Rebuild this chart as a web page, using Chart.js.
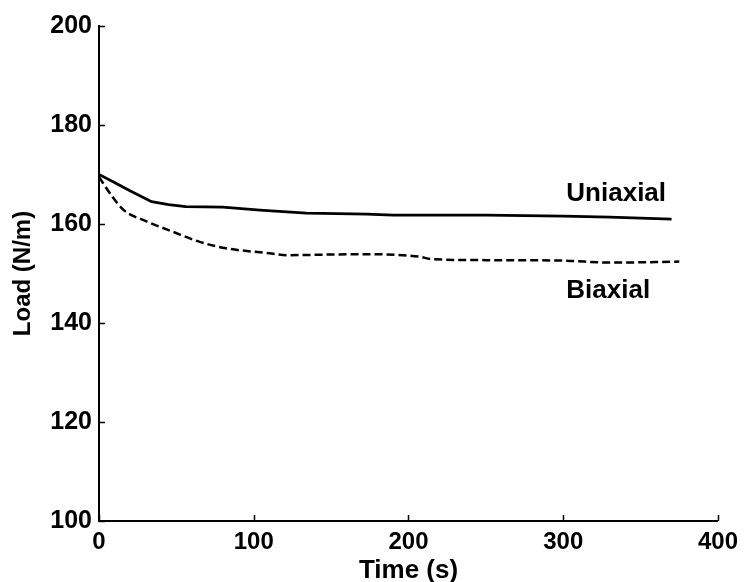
<!DOCTYPE html>
<html>
<head>
<meta charset="utf-8">
<script src="https://cdn.jsdelivr.net/npm/chart.js@4/dist/chart.umd.min.js"></script>
<style>
  html, body { margin: 0; padding: 0; background: #fff; }
  #wrap { width: 745px; height: 582px; position: relative; }
</style>
</head>
<body>
<div id="wrap"><canvas id="loadChart"></canvas></div>
<script>
// data
const uniTime = [0, 10, 20, 34, 45, 56, 80, 104, 134, 173, 190, 250, 300, 330, 370];
const uniLoad = [170.0, 168.4, 166.7, 164.5, 163.9, 163.5, 163.4, 162.8, 162.2, 162.0, 161.8, 161.8, 161.6, 161.4, 161.0];
const biTime = [0, 8, 16, 31, 48, 65, 82, 110, 121, 168, 207, 215, 250, 300, 330, 375];
const biLoad = [169.5, 165.8, 162.8, 160.5, 158.4, 156.4, 155.1, 154.1, 153.7, 153.9, 153.4, 152.9, 152.7, 152.6, 152.2, 152.4];
const xTicks = [0, 100, 200, 300, 400];
const yTicks = [100, 120, 140, 160, 180, 200];
const labels = [
    { text: 'Uniaxial', x: 302, y: 166.1 },
    { text: 'Biaxial', x: 302, y: 146.5 }
];

const FONT = "'Liberation Sans', Arial, sans-serif";

function toPoints(xs, ys) {
    return xs.map((x, i) => ({ x: x, y: ys[i] }));
}

// inward tick marks + curve labels
const extras = {
    id: 'extras',
    afterDraw(chart) {
        const ctx = chart.ctx;
        const xs = chart.scales.x, ys = chart.scales.y;
        const area = chart.chartArea;
        ctx.save();
        ctx.strokeStyle = '#000';
        ctx.lineWidth = 1.5;
        ctx.beginPath();
        yTicks.forEach(v => {
            const py = Math.round(ys.getPixelForValue(v)) + 0.5;
            ctx.moveTo(area.left, py);
            ctx.lineTo(area.left + 6, py);
        });
        xTicks.forEach(v => {
            const px = Math.round(xs.getPixelForValue(v)) + 0.5;
            ctx.moveTo(px, area.bottom);
            ctx.lineTo(px, area.bottom - 6);
        });
        ctx.stroke();

        ctx.fillStyle = '#000';
        ctx.font = 'bold 26px ' + FONT;
        ctx.textAlign = 'left';
        ctx.textBaseline = 'middle';
        labels.forEach(l => {
            ctx.fillText(l.text, xs.getPixelForValue(l.x), ys.getPixelForValue(l.y));
        });
        ctx.restore();
    }
};

const ctx = document.getElementById('loadChart').getContext('2d');
new Chart(ctx, {
    type: 'line',
    data: {
        datasets: [
            {
                label: 'Uniaxial',
                data: toPoints(uniTime, uniLoad),
                borderColor: '#000',
                borderWidth: 2.8,
                pointRadius: 0,
                tension: 0
            },
            {
                label: 'Biaxial',
                data: toPoints(biTime, biLoad),
                borderColor: '#000',
                borderWidth: 2.5,
                borderDash: [8, 4],
                pointRadius: 0,
                cubicInterpolationMode: 'monotone'
            }
        ]
    },
    options: {
        responsive: true,
        maintainAspectRatio: false,
        animation: false,
        layout: { padding: { top: 26, right: 26, left: 0, bottom: 0 } },
        plugins: {
            legend: { display: false },
            tooltip: { enabled: false }
        },
        scales: {
            x: {
                type: 'linear',
                min: 0,
                max: 400,
                afterFit: s => { s.height = 61; },
                afterBuildTicks: s => { s.ticks = xTicks.map(v => ({ value: v })); },
                grid: { display: false, drawTicks: false },
                border: { display: true, color: '#000', width: 2 },
                ticks: {
                    color: '#000',
                    padding: 7,
                    maxRotation: 0,
                    font: { family: FONT, size: 24, weight: 'bold' }
                },
                title: {
                    display: true,
                    text: 'Time (s)',
                    color: '#000',
                    padding: { top: 0, bottom: -4 },
                    font: { family: FONT, size: 26, weight: 'bold' }
                }
            },
            y: {
                min: 100,
                max: 200,
                afterFit: s => { s.width = 99; },
                afterBuildTicks: s => { s.ticks = yTicks.map(v => ({ value: v })); },
                grid: { display: false, drawTicks: false },
                border: { display: true, color: '#000', width: 2 },
                ticks: {
                    color: '#000',
                    padding: 7,
                    font: { family: FONT, size: 25, weight: 'bold' }
                },
                title: {
                    display: true,
                    text: 'Load (N/m)',
                    color: '#000',
                    padding: { top: 9, bottom: 0 },
                    font: { family: FONT, size: 24, weight: 'bold' }
                }
            }
        }
    },
    plugins: [extras]
});
</script>
</body>
</html>
